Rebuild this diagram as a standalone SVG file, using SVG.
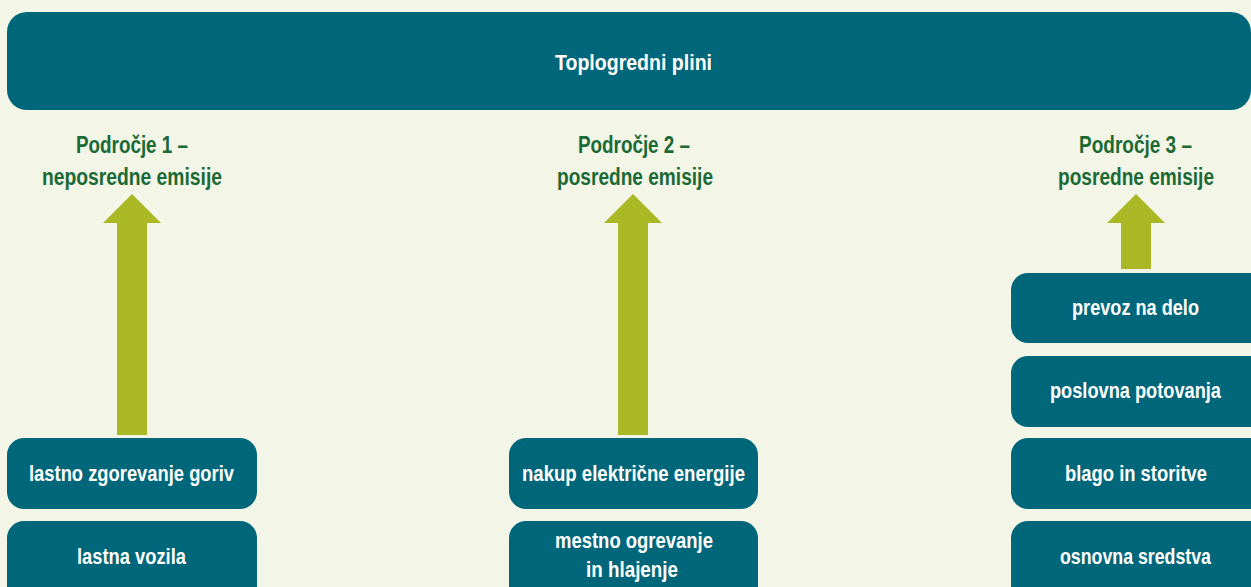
<svg xmlns="http://www.w3.org/2000/svg" width="1251" height="587" viewBox="0 0 1251 587">
<style>
.bg{fill:#f3f5e7}
.box{fill:#00677b}
.arrow{fill:#a9b824}
.t{font-family:"Liberation Sans",Arial,sans-serif;font-weight:bold;font-size:22.5px;text-anchor:middle}
.w{fill:#ffffff}
.g{fill:#1b6a35;font-size:23.5px}
</style>
<rect class="bg" x="0" y="0" width="1251" height="587"/>
<g id="top">
<rect class="box" x="7" y="12" width="1244" height="98" rx="20" ry="20"/>
<text class="t w" x="633.5" y="70" textLength="157" lengthAdjust="spacingAndGlyphs">Toplogredni plini</text>
</g>
<g id="scope1">
<text class="t g" x="132" y="153" textLength="112" lengthAdjust="spacingAndGlyphs">Področje 1 –</text>
<text class="t g" x="132" y="185" textLength="180" lengthAdjust="spacingAndGlyphs">neposredne emisije</text>
</g>
<g id="scope2">
<text class="t g" x="634" y="153" textLength="112" lengthAdjust="spacingAndGlyphs">Področje 2 –</text>
<text class="t g" x="635" y="185" textLength="156" lengthAdjust="spacingAndGlyphs">posredne emisije</text>
</g>
<g id="scope3">
<text class="t g" x="1135.5" y="153" textLength="113" lengthAdjust="spacingAndGlyphs">Področje 3 –</text>
<text class="t g" x="1136" y="185" textLength="156" lengthAdjust="spacingAndGlyphs">posredne emisije</text>
</g>
<g id="connectors">
<polygon class="arrow" points="132,194 161,223 147,223 147,435 117,435 117,223 103,223"/>
<polygon class="arrow" points="633,194 662,223 648,223 648,435 618,435 618,223 604,223"/>
<polygon class="arrow" points="1136,194 1165,223 1151,223 1151,269 1121,269 1121,223 1107,223"/>
</g>
<g id="n1">
<rect class="box" x="7" y="438" width="250" height="71" rx="17"/>
<text class="t w" x="131.5" y="481" textLength="205" lengthAdjust="spacingAndGlyphs">lastno zgorevanje goriv</text>
</g>
<g id="n2">
<path class="box" d="M24,521 H240 A17,17 0 0 1 257,538 V587 H7 V538 A17,17 0 0 1 24,521 Z"/>
<text class="t w" x="131.5" y="564" textLength="109" lengthAdjust="spacingAndGlyphs">lastna vozila</text>
</g>
<g id="n3">
<rect class="box" x="509" y="438" width="249" height="71" rx="17"/>
<text class="t w" x="633.5" y="481" textLength="223" lengthAdjust="spacingAndGlyphs">nakup električne energije</text>
</g>
<g id="n4">
<path class="box" d="M526,521 H741 A17,17 0 0 1 758,538 V587 H509 V538 A17,17 0 0 1 526,521 Z"/>
<text class="t w" x="634" y="548" textLength="158" lengthAdjust="spacingAndGlyphs">mestno ogrevanje</text>
<text class="t w" x="632" y="577" textLength="92" lengthAdjust="spacingAndGlyphs">in hlajenje</text>
</g>
<g id="n5">
<path class="box" d="M1028,273 H1251 V343 H1028 A17,17 0 0 1 1011,326 V290 A17,17 0 0 1 1028,273 Z"/>
<text class="t w" x="1135.5" y="315" textLength="127" lengthAdjust="spacingAndGlyphs">prevoz na delo</text>
</g>
<g id="n6">
<path class="box" d="M1028,356 H1251 V427 H1028 A17,17 0 0 1 1011,410 V373 A17,17 0 0 1 1028,356 Z"/>
<text class="t w" x="1135.5" y="398" textLength="171" lengthAdjust="spacingAndGlyphs">poslovna potovanja</text>
</g>
<g id="n7">
<path class="box" d="M1028,438 H1251 V509 H1028 A17,17 0 0 1 1011,492 V455 A17,17 0 0 1 1028,438 Z"/>
<text class="t w" x="1136" y="481" textLength="142" lengthAdjust="spacingAndGlyphs">blago in storitve</text>
</g>
<g id="n8">
<path class="box" d="M1028,521 H1251 V587 H1011 V538 A17,17 0 0 1 1028,521 Z"/>
<text class="t w" x="1135.5" y="564" textLength="151" lengthAdjust="spacingAndGlyphs">osnovna sredstva</text>
</g>
</svg>
